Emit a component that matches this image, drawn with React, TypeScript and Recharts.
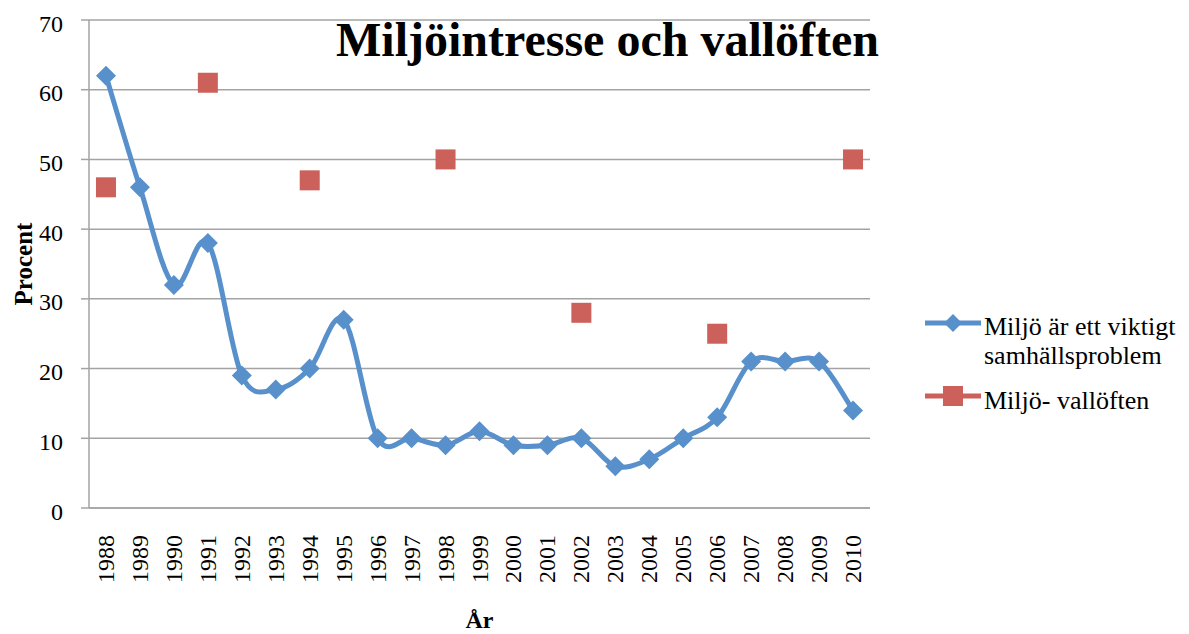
import { ComposedChart, Line, XAxis, YAxis, CartesianGrid, Legend, Label } from "recharts";

const years = [
  "1988", "1989", "1990", "1991", "1992", "1993", "1994", "1995", "1996", "1997", "1998", "1999",
  "2000", "2001", "2002", "2003", "2004", "2005", "2006", "2007", "2008", "2009", "2010",
];
const viktigt = [62, 46, 32, 38, 19, 17, 20, 27, 10, 10, 9, 11, 9, 9, 10, 6, 7, 10, 13, 21, 21, 21, 14];
const loftesYears = ["1988", "1991", "1994", "1998", "2002", "2006", "2010"];
const valloften = [46, 61, 47, 50, 28, 25, 50];
const yTicks = [0, 10, 20, 30, 40, 50, 60, 70];

const BLUE = "#5890CC";
const RED = "#CB615A";
const GRID = "#A3A3A3";
const FONT = "Liberation Serif, serif";

const data = years.map((year, i) => {
  const k = loftesYears.indexOf(year);
  return { year, viktigt: viktigt[i], valloften: k >= 0 ? valloften[k] : null };
});
// tick marks between the year categories
const edgeTicks = [...years.map((_, i) => i), years.length];

// Excel-like smoothing (catmull-rom as cubic beziers)
const smoothCurve = (context: any) => {
  let pts: number[][] = [];
  return {
    areaStart() {},
    areaEnd() {},
    lineStart() {
      pts = [];
    },
    point(x: number, y: number) {
      pts.push([+x, +y]);
    },
    lineEnd() {
      const n = pts.length;
      if (!n) return;
      context.moveTo(pts[0][0], pts[0][1]);
      for (let i = 0; i < n - 1; i++) {
        const p0 = pts[Math.max(0, i - 1)];
        const p1 = pts[i];
        const p2 = pts[i + 1];
        const p3 = pts[Math.min(n - 1, i + 2)];
        context.bezierCurveTo(
          p1[0] + (p2[0] - p0[0]) / 6,
          p1[1] + (p2[1] - p0[1]) / 6,
          p2[0] - (p3[0] - p1[0]) / 6,
          p2[1] - (p3[1] - p1[1]) / 6,
          p2[0],
          p2[1]
        );
      }
    },
  };
};

const Diamond = (p: any) => {
  const { cx, cy, index } = p;
  if (cy == null || cx == null) return <g key={`d${index}`} />;
  const r = 10;
  return (
    <polygon
      key={`d${index}`}
      points={`${cx},${cy - r} ${cx + r},${cy} ${cx},${cy + r} ${cx - r},${cy}`}
      fill={BLUE}
    />
  );
};

const Square = (p: any) => {
  const { cx, cy, index } = p;
  if (cy == null || cx == null) return <g key={`s${index}`} />;
  return <rect key={`s${index}`} x={cx - 10} y={cy - 10} width={20} height={20} fill={RED} />;
};

const YearTick = (p: any) => {
  const { x, y, payload } = p;
  return (
    <text
      x={x}
      y={y}
      transform={`rotate(-90 ${x} ${y})`}
      textAnchor="end"
      dominantBaseline="central"
      fontSize={24}
      fontFamily={FONT}
      fill="#000"
    >
      {payload.value}
    </text>
  );
};

const ValueTick = (p: any) => {
  const { x, y, payload } = p;
  return (
    <text x={x} y={y + 3} dy="0.355em" textAnchor="end" fontSize={24} fontFamily={FONT} fill="#000">
      {payload.value}
    </text>
  );
};

const LegendBox = () => (
  <svg width={264} height={124} style={{ display: "block" }}>
    <g fontFamily={FONT} fontSize={26} fill="#000">
      <line x1={0} y1={23} x2={56} y2={23} stroke={BLUE} strokeWidth={5} />
      <polygon points="28,14 37,23 28,32 19,23" fill={BLUE} />
      <text x={59} y={35}>Miljö är ett viktigt</text>
      <text x={59} y={64}>samhällsproblem</text>
      <line x1={0} y1={96} x2={56} y2={96} stroke={RED} strokeWidth={5} />
      <rect x={18} y={86} width={20} height={20} fill={RED} />
      <text x={59} y={109}>Miljö- vallöften</text>
    </g>
  </svg>
);

export default function App() {
  return (
    <div
      style={{
        position: "absolute",
        left: 0,
        top: 0,
        width: 1189,
        height: 634,
        background: "#fff",
        fontFamily: FONT,
      }}
    >
      <ComposedChart
        width={1189}
        height={634}
        data={data}
        margin={{ top: 20, right: 319, bottom: 124, left: 0 }}
      >
        <CartesianGrid horizontal vertical={false} stroke={GRID} strokeWidth={1.5} />
        <XAxis
          xAxisId="edges"
          type="number"
          domain={[0, years.length]}
          ticks={edgeTicks}
          allowDataOverflow
          height={1}
          tick={false}
          tickSize={8}
          tickLine={{ stroke: GRID, strokeWidth: 1.5 }}
          axisLine={false}
        />
        <XAxis
          dataKey="year"
          scale="band"
          height={1}
          interval={0}
          tickLine={false}
          tickSize={0}
          tickMargin={27}
          tick={<YearTick />}
          axisLine={{ stroke: GRID, strokeWidth: 1.5 }}
        >
          <Label
            content={(p: any) => {
              const vb = p.viewBox;
              return (
                <text
                  x={vb.x + vb.width / 2}
                  y={vb.y + 120}
                  textAnchor="middle"
                  fontSize={24}
                  fontWeight="bold"
                  fontFamily={FONT}
                  fill="#000"
                >
                  År
                </text>
              );
            }}
          />
        </XAxis>
        <YAxis
          width={89}
          domain={[0, 70]}
          ticks={yTicks}
          interval={0}
          tickSize={8}
          tickMargin={18}
          tick={<ValueTick />}
          tickLine={{ stroke: GRID, strokeWidth: 1.5 }}
          axisLine={{ stroke: GRID, strokeWidth: 1.5 }}
        >
          <Label
            content={(p: any) => {
              const vb = p.viewBox;
              const x = vb.x + 32;
              const y = vb.y + vb.height / 2;
              return (
                <text
                  x={x}
                  y={y}
                  transform={`rotate(-90 ${x} ${y})`}
                  textAnchor="middle"
                  fontSize={25}
                  fontWeight="bold"
                  fontFamily={FONT}
                  fill="#000"
                >
                  Procent
                </text>
              );
            }}
          />
        </YAxis>
        <Line
          dataKey="viktigt"
          name="Miljö är ett viktigt samhällsproblem"
          type={smoothCurve as any}
          stroke={BLUE}
          strokeWidth={5}
          dot={Diamond}
          activeDot={false}
          isAnimationActive={false}
        />
        <Line
          dataKey="valloften"
          name="Miljö- vallöften"
          stroke="none"
          dot={Square}
          activeDot={false}
          isAnimationActive={false}
        />
        <Legend
          layout="vertical"
          align="center"
          verticalAlign="middle"
          wrapperStyle={{ left: 925, top: 300, width: 264 }}
          content={() => <LegendBox />}
        />
      </ComposedChart>
      <div
        style={{
          position: "absolute",
          left: 336,
          top: 16,
          fontFamily: FONT,
          fontSize: 48,
          lineHeight: "48px",
          fontWeight: "bold",
          color: "#000",
          whiteSpace: "nowrap",
        }}
      >
        Miljöintresse och vallöften
      </div>
    </div>
  );
}
